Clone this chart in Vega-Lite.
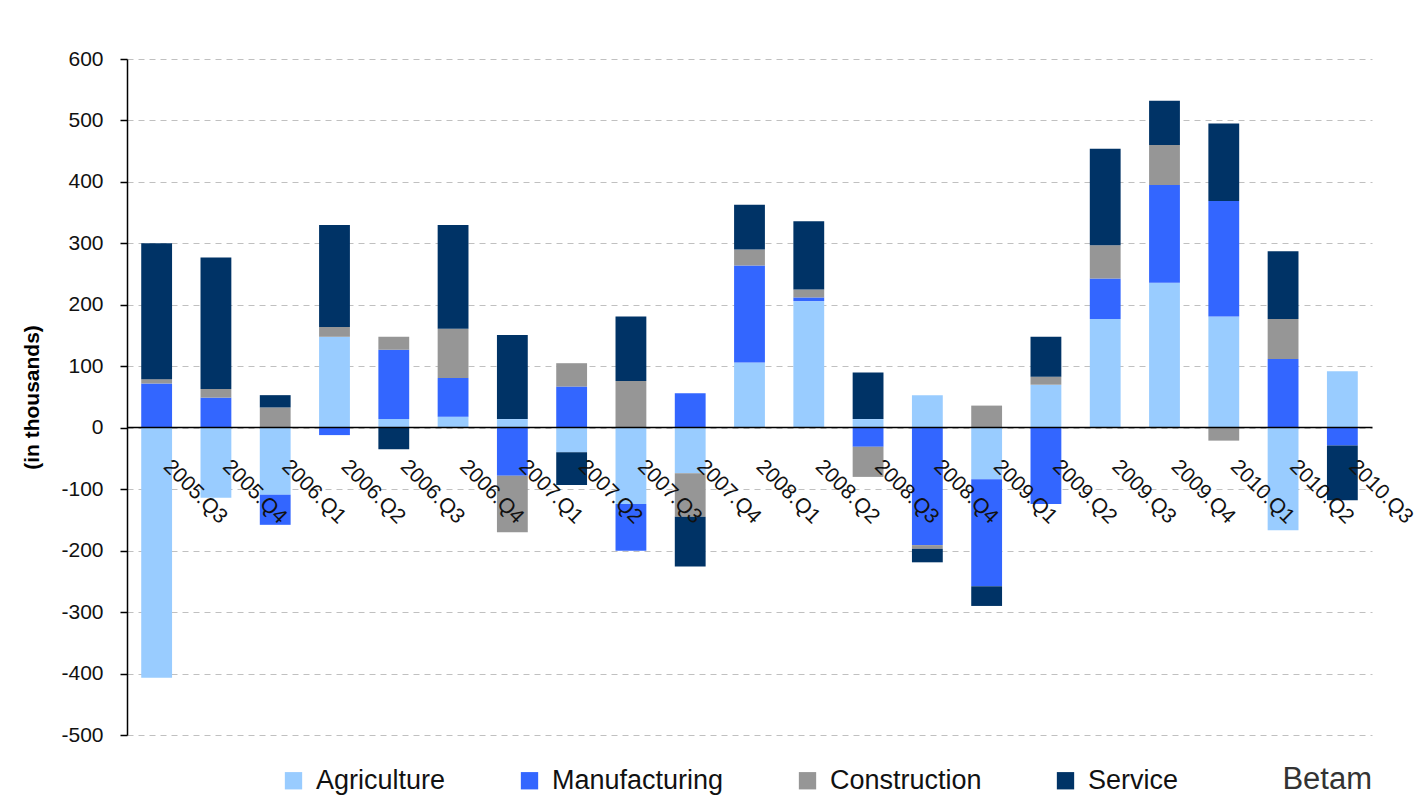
{
  "$schema": "https://vega.github.io/schema/vega-lite/v6.json",
  "width": 1245,
  "height": 676,
  "autosize": {"type": "none"},
  "padding": {"left": 127, "top": 59, "right": 50, "bottom": 62},
  "background": "white",
  "config": {"view": {"stroke": null}, "font": "Liberation Sans"},
  "title": {"text": "Betam", "orient": "bottom", "anchor": "end", "frame": "group", "offset": -29, "fontSize": 31, "fontWeight": "normal", "color": "#333", "font": "Liberation Sans"},
  "data": {"values": [
    {"quarter": "2005.Q3", "sector": "Agriculture", "value": -407},
    {"quarter": "2005.Q3", "sector": "Manufacturing", "value": 72},
    {"quarter": "2005.Q3", "sector": "Construction", "value": 7},
    {"quarter": "2005.Q3", "sector": "Service", "value": 221},
    {"quarter": "2005.Q4", "sector": "Agriculture", "value": -114},
    {"quarter": "2005.Q4", "sector": "Manufacturing", "value": 49},
    {"quarter": "2005.Q4", "sector": "Construction", "value": 14},
    {"quarter": "2005.Q4", "sector": "Service", "value": 214},
    {"quarter": "2006.Q1", "sector": "Agriculture", "value": -109},
    {"quarter": "2006.Q1", "sector": "Manufacturing", "value": -49},
    {"quarter": "2006.Q1", "sector": "Construction", "value": 33},
    {"quarter": "2006.Q1", "sector": "Service", "value": 20},
    {"quarter": "2006.Q2", "sector": "Agriculture", "value": 148},
    {"quarter": "2006.Q2", "sector": "Manufacturing", "value": -12},
    {"quarter": "2006.Q2", "sector": "Construction", "value": 16},
    {"quarter": "2006.Q2", "sector": "Service", "value": 166},
    {"quarter": "2006.Q3", "sector": "Agriculture", "value": 14},
    {"quarter": "2006.Q3", "sector": "Manufacturing", "value": 113},
    {"quarter": "2006.Q3", "sector": "Construction", "value": 21},
    {"quarter": "2006.Q3", "sector": "Service", "value": -35},
    {"quarter": "2006.Q4", "sector": "Agriculture", "value": 18},
    {"quarter": "2006.Q4", "sector": "Manufacturing", "value": 63},
    {"quarter": "2006.Q4", "sector": "Construction", "value": 80},
    {"quarter": "2006.Q4", "sector": "Service", "value": 169},
    {"quarter": "2007.Q1", "sector": "Agriculture", "value": 14},
    {"quarter": "2007.Q1", "sector": "Manufacturing", "value": -78},
    {"quarter": "2007.Q1", "sector": "Construction", "value": -92},
    {"quarter": "2007.Q1", "sector": "Service", "value": 137},
    {"quarter": "2007.Q2", "sector": "Agriculture", "value": -40},
    {"quarter": "2007.Q2", "sector": "Manufacturing", "value": 67},
    {"quarter": "2007.Q2", "sector": "Construction", "value": 38},
    {"quarter": "2007.Q2", "sector": "Service", "value": -53},
    {"quarter": "2007.Q3", "sector": "Agriculture", "value": -124},
    {"quarter": "2007.Q3", "sector": "Manufacturing", "value": -76},
    {"quarter": "2007.Q3", "sector": "Construction", "value": 76},
    {"quarter": "2007.Q3", "sector": "Service", "value": 105},
    {"quarter": "2007.Q4", "sector": "Agriculture", "value": -74},
    {"quarter": "2007.Q4", "sector": "Manufacturing", "value": 56},
    {"quarter": "2007.Q4", "sector": "Construction", "value": -71},
    {"quarter": "2007.Q4", "sector": "Service", "value": -81},
    {"quarter": "2008.Q1", "sector": "Agriculture", "value": 106},
    {"quarter": "2008.Q1", "sector": "Manufacturing", "value": 158},
    {"quarter": "2008.Q1", "sector": "Construction", "value": 26},
    {"quarter": "2008.Q1", "sector": "Service", "value": 73},
    {"quarter": "2008.Q2", "sector": "Agriculture", "value": 206},
    {"quarter": "2008.Q2", "sector": "Manufacturing", "value": 6},
    {"quarter": "2008.Q2", "sector": "Construction", "value": 13},
    {"quarter": "2008.Q2", "sector": "Service", "value": 111},
    {"quarter": "2008.Q3", "sector": "Agriculture", "value": 14},
    {"quarter": "2008.Q3", "sector": "Manufacturing", "value": -31},
    {"quarter": "2008.Q3", "sector": "Construction", "value": -49},
    {"quarter": "2008.Q3", "sector": "Service", "value": 76},
    {"quarter": "2008.Q4", "sector": "Agriculture", "value": 53},
    {"quarter": "2008.Q4", "sector": "Manufacturing", "value": -191},
    {"quarter": "2008.Q4", "sector": "Construction", "value": -6},
    {"quarter": "2008.Q4", "sector": "Service", "value": -22},
    {"quarter": "2009.Q1", "sector": "Agriculture", "value": -84},
    {"quarter": "2009.Q1", "sector": "Manufacturing", "value": -174},
    {"quarter": "2009.Q1", "sector": "Construction", "value": 36},
    {"quarter": "2009.Q1", "sector": "Service", "value": -32},
    {"quarter": "2009.Q2", "sector": "Agriculture", "value": 70},
    {"quarter": "2009.Q2", "sector": "Manufacturing", "value": -124},
    {"quarter": "2009.Q2", "sector": "Construction", "value": 13},
    {"quarter": "2009.Q2", "sector": "Service", "value": 65},
    {"quarter": "2009.Q3", "sector": "Agriculture", "value": 177},
    {"quarter": "2009.Q3", "sector": "Manufacturing", "value": 66},
    {"quarter": "2009.Q3", "sector": "Construction", "value": 54},
    {"quarter": "2009.Q3", "sector": "Service", "value": 157},
    {"quarter": "2009.Q4", "sector": "Agriculture", "value": 236},
    {"quarter": "2009.Q4", "sector": "Manufacturing", "value": 159},
    {"quarter": "2009.Q4", "sector": "Construction", "value": 65},
    {"quarter": "2009.Q4", "sector": "Service", "value": 72},
    {"quarter": "2010.Q1", "sector": "Agriculture", "value": 181},
    {"quarter": "2010.Q1", "sector": "Manufacturing", "value": 188},
    {"quarter": "2010.Q1", "sector": "Construction", "value": -21},
    {"quarter": "2010.Q1", "sector": "Service", "value": 126},
    {"quarter": "2010.Q2", "sector": "Agriculture", "value": -167},
    {"quarter": "2010.Q2", "sector": "Manufacturing", "value": 112},
    {"quarter": "2010.Q2", "sector": "Construction", "value": 65},
    {"quarter": "2010.Q2", "sector": "Service", "value": 110},
    {"quarter": "2010.Q3", "sector": "Agriculture", "value": 92},
    {"quarter": "2010.Q3", "sector": "Manufacturing", "value": -29},
    {"quarter": "2010.Q3", "sector": "Construction", "value": 0},
    {"quarter": "2010.Q3", "sector": "Service", "value": -89}
  ]},
  "transform": [
    {"calculate": "indexof(['Agriculture','Manufacturing','Construction','Service'], datum.sector)", "as": "ord"}
  ],
  "mark": {"type": "bar"},
  "encoding": {
    "x": {
      "field": "quarter", "type": "ordinal", "sort": null,
      "scale": {"paddingInner": 0.48, "paddingOuter": 0.24},
      "axis": {
        "title": null, "orient": "bottom", "offset": -308,
        "domainColor": "black", "domainWidth": 1.5,
        "ticks": false, "grid": false,
        "labelAngle": 45, "labelAlign": "left", "labelBaseline": "middle",
        "labelPadding": 36, "labelOffset": 10,
        "labelFontSize": 21, "labelColor": "#111", "labelFont": "Liberation Sans",
        "zindex": 1
      }
    },
    "y": {
      "field": "value", "type": "quantitative", "stack": "zero",
      "scale": {"domain": [-500, 600], "nice": false, "zero": false},
      "axis": {
        "title": "(in thousands)", "titleFontSize": 21, "titleFontWeight": "bold",
        "titleColor": "black", "titleFont": "Liberation Sans", "titlePadding": 18,
        "values": [-500, -400, -300, -200, -100, 0, 100, 200, 300, 400, 500, 600],
        "labelExpr": "toString(datum.value)",
        "labelFontSize": 21, "labelColor": "#111", "labelFont": "Liberation Sans",
        "labelPadding": 17,
        "tickColor": "black", "tickSize": 7, "tickWidth": 1.5,
        "domainColor": "black", "domainWidth": 1.5,
        "grid": true, "gridColor": "#c0c0c0", "gridDash": [6, 5], "gridWidth": 1
      }
    },
    "color": {
      "field": "sector", "type": "nominal",
      "scale": {
        "domain": ["Agriculture", "Manufacturing", "Construction", "Service"],
        "range": ["#99CCFF", "#3366FF", "#969696", "#003366"]
      },
      "legend": {
        "orient": "none", "legendX": 153, "legendY": 708,
        "direction": "horizontal", "columns": 4, "title": null,
        "symbolType": "square", "symbolSize": 300, "symbolStrokeWidth": 0,
        "labelFontSize": 27, "labelColor": "#111", "labelFont": "Liberation Sans",
        "labelLimit": 0,
        "columnPadding": 70, "labelOffset": 9, "padding": 0
      }
    },
    "order": {"field": "ord", "type": "quantitative"}
  }
}
